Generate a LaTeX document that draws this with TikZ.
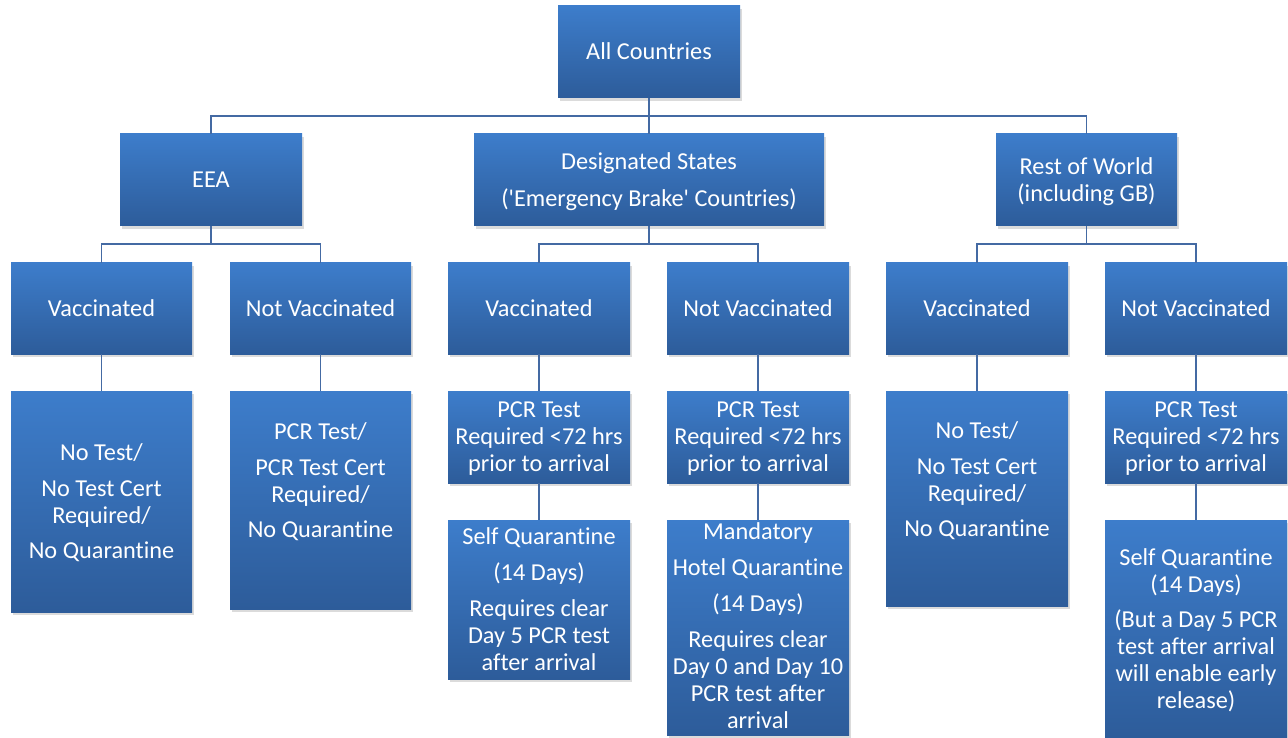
\documentclass[tikz,border=0pt]{standalone}
\usepackage{fontspec}
\setmainfont{Carlito}[Ligatures=CommonOff]
\usetikzlibrary{shadows}
\definecolor{boxtop}{RGB}{61,125,203}
\definecolor{boxbot}{RGB}{45,92,154}
\definecolor{conncol}{RGB}{68,106,163}
\newcommand\sq{\XeTeXglyph\XeTeXcharglyph"27\relax}
\newcommand\ftop{\rule{0pt}{24pt}}
\newcommand\fbot{\rule[-8.1pt]{0pt}{8.1pt}}
\begin{document}
\begin{tikzpicture}[x=1pt,y=-1pt,
  box/.style={rectangle, top color=boxtop, bottom color=boxbot, draw=none,
    inner sep=0pt, outer sep=0pt, align=center, text=white,
    font=\fontsize{24.3}{27}\selectfont,
    drop shadow={opacity=0.28, shadow xshift=1.5pt, shadow yshift=-3pt}},
  conn/.style={draw=conncol, line width=1.8pt}]
\useasboundingbox[fill=white] (0,0) rectangle (1288,738);

% level 0
\node[box, minimum width=182pt, minimum height=92pt] (ac) at (649,52) {\ftop All Countries\fbot};

% level 1
\node[box, minimum width=182pt, minimum height=92pt] (eea) at (211,180) {\ftop EEA\fbot};
\node[box, minimum width=350pt, minimum height=92pt] (ds) at (649,180)
  {\ftop Designated States\\[10pt](\sq Emergency Brake\sq{} Countries)\fbot};
\node[box, minimum width=181pt, minimum height=92pt] (row) at (1086.5,180)
  {\ftop Rest of World\\(including GB)\fbot};

% level 2
\node[box, minimum width=181pt, minimum height=91pt] (eeav) at (101.5,308.5) {\ftop Vaccinated\fbot};
\node[box, minimum width=181pt, minimum height=91pt] (eean) at (320.5,308.5) {\ftop Not Vaccinated\fbot};
\node[box, minimum width=182pt, minimum height=91pt] (dsv) at (539,308.5) {\ftop Vaccinated\fbot};
\node[box, minimum width=182pt, minimum height=91pt] (dsn) at (758,308.5) {\ftop Not Vaccinated\fbot};
\node[box, minimum width=182pt, minimum height=91pt] (rowv) at (977,308.5) {\ftop Vaccinated\fbot};
\node[box, minimum width=182pt, minimum height=91pt] (rown) at (1196,308.5) {\ftop Not Vaccinated\fbot};

% level 3
\node[box, minimum width=181pt, minimum height=221pt] (eeavr) at (101.5,501.5)
  {\ftop No Test/\\[9pt]No Test Cert\\Required/\\[8pt]No Quarantine\fbot};
\node[box, minimum width=181pt, minimum height=218pt] (eeanr) at (320.5,500)
  {\ftop PCR Test/\\[9pt]PCR Test Cert\\Required/\\[8pt]No Quarantine\\[11pt]\fbot};
\node[box, minimum width=182pt, minimum height=92pt] (dsvp) at (539,437)
  {\ftop PCR Test\\Required <72 hrs\\prior to arrival\fbot};
\node[box, minimum width=182pt, minimum height=92pt] (dsnp) at (758,437)
  {\ftop PCR Test\\Required <72 hrs\\prior to arrival\fbot};
\node[box, minimum width=182pt, minimum height=215pt] (rowvr) at (977,498.5)
  {\ftop No Test/\\[9pt]No Test Cert\\Required/\\[8pt]No Quarantine\\[11pt]\fbot};
\node[box, minimum width=182pt, minimum height=92pt] (rownp) at (1196,437)
  {\ftop PCR Test\\Required <72 hrs\\prior to arrival\fbot};

% level 4
\node[box, minimum width=182pt, minimum height=159pt] (dsvq) at (539,599.5)
  {\ftop Self Quarantine\\[9pt](14 Days)\\[9pt]Requires clear\\Day 5 PCR test\\after arrival\fbot};
\node[box, minimum width=182pt, minimum height=215pt] (dsnq) at (758,627.5)
  {\rule{0pt}{18pt}Mandatory\\[9pt]Hotel Quarantine\\[9pt](14 Days)\\[9pt]Requires clear\\Day 0 and Day 10\\PCR test after\\arrival\rule[-5pt]{0pt}{5pt}};
\node[box, minimum width=182pt, minimum height=218pt] (rownq) at (1196,629)
  {\ftop Self Quarantine\\(14 Days)\\[8pt](But a Day 5 PCR\\test after arrival\\will enable early\\release)\fbot};

% connectors level 0 -> 1
\draw[conn] (ac.south) |- ([yshift=18pt]eea.north) -- (eea.north);
\draw[conn] (ac.south) -- (ds.north);
\draw[conn] (ac.south) |- ([yshift=18pt]row.north) -- (row.north);

% level 1 -> 2
\draw[conn] (eea.south) |- ([yshift=19pt]eeav.north) -- (eeav.north);
\draw[conn] (eea.south) |- ([yshift=19pt]eean.north) -- (eean.north);
\draw[conn] (ds.south) |- ([yshift=19pt]dsv.north) -- (dsv.north);
\draw[conn] (ds.south) |- ([yshift=19pt]dsn.north) -- (dsn.north);
\draw[conn] (row.south) |- ([yshift=19pt]rowv.north) -- (rowv.north);
\draw[conn] (row.south) |- ([yshift=19pt]rown.north) -- (rown.north);

% level 2 -> 3
\draw[conn] (eeav.south) -- (eeavr.north);
\draw[conn] (eean.south) -- (eeanr.north);
\draw[conn] (dsv.south) -- (dsvp.north);
\draw[conn] (dsn.south) -- (dsnp.north);
\draw[conn] (rowv.south) -- (rowvr.north);
\draw[conn] (rown.south) -- (rownp.north);

% level 3 -> 4
\draw[conn] (dsvp.south) -- (dsvq.north);
\draw[conn] (dsnp.south) -- (dsnq.north);
\draw[conn] (rownp.south) -- (rownq.north);
\end{tikzpicture}
\end{document}
